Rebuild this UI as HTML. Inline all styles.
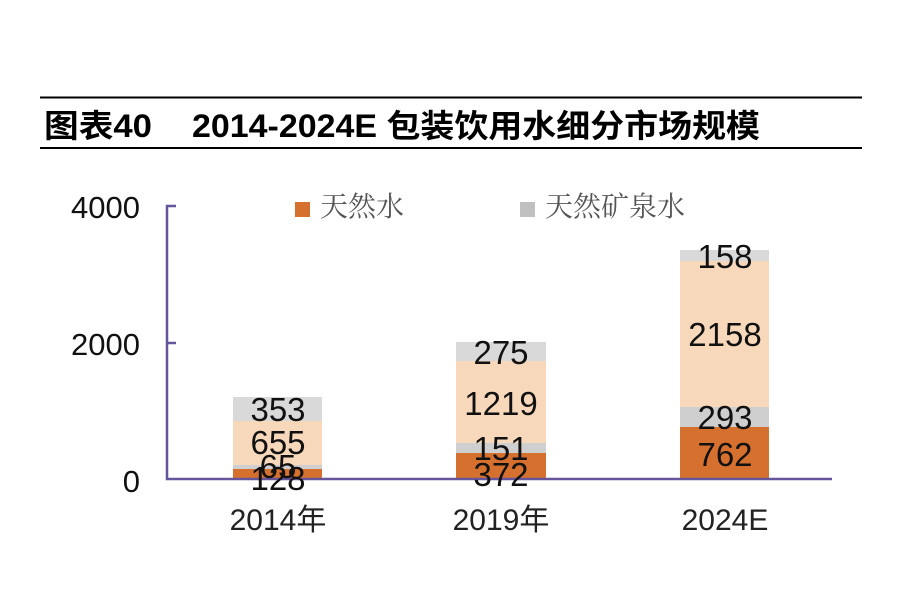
<!DOCTYPE html>
<html><head><meta charset="utf-8"><style>
html,body{margin:0;padding:0;background:#fff;}
</style></head><body>
<svg width="900" height="600" xmlns="http://www.w3.org/2000/svg" style="display:block">
<line x1="40" y1="97.5" x2="862" y2="97.5" stroke="#000" stroke-width="2"/>
<line x1="40" y1="148" x2="862" y2="148" stroke="#000" stroke-width="2"/>
<text x="44" y="137" font-family="Liberation Sans, Noto Sans CJK SC, sans-serif" font-size="32" font-weight="bold" fill="#000" textLength="108" lengthAdjust="spacingAndGlyphs">图表40</text>
<text x="192" y="137" font-family="Liberation Sans, Noto Sans CJK SC, sans-serif" font-size="32" font-weight="bold" fill="#000" textLength="568" lengthAdjust="spacingAndGlyphs">2014-2024E 包装饮用水细分市场规模</text>
<g font-family="Liberation Serif, Noto Serif CJK SC, serif" font-size="28" fill="#555">
<rect x="295" y="202" width="15" height="15" fill="#D6702F"/>
<text x="320" y="216">天然水</text>
<rect x="520" y="202" width="15" height="15" fill="#C0C0C0"/>
<text x="545" y="216">天然矿泉水</text>
</g>
<g font-family="Liberation Sans, sans-serif" font-size="31" fill="#111" text-anchor="end">
<text x="140" y="218">4000</text>
<text x="140" y="355">2000</text>
<text x="140" y="492">0</text>
</g>
<g>
<rect x="233" y="469" width="89" height="9" fill="#D6702F"/>
<rect x="233" y="465" width="89" height="4" fill="#CFCFCF"/>
<rect x="233" y="421" width="89" height="44" fill="#F8D8BA"/>
<rect x="233" y="397" width="89" height="24" fill="#D9D9D9"/>
<rect x="456" y="453" width="90" height="25" fill="#D6702F"/>
<rect x="456" y="443" width="90" height="10" fill="#CFCFCF"/>
<rect x="456" y="361" width="90" height="82" fill="#F8D8BA"/>
<rect x="456" y="342" width="90" height="19" fill="#D9D9D9"/>
<rect x="680" y="427" width="89" height="51" fill="#D6702F"/>
<rect x="680" y="407" width="89" height="20" fill="#CFCFCF"/>
<rect x="680" y="261" width="89" height="146" fill="#F8D8BA"/>
<rect x="680" y="250" width="89" height="11" fill="#D9D9D9"/>
</g>
<g fill="none" stroke="#65559A" stroke-width="2.5">
<path d="M176 206 H167 V479 H832"/>
<path d="M167 343 H176"/>
</g>
<g font-family="Liberation Sans, sans-serif" font-size="33" fill="#111" text-anchor="middle">
<text x="278" y="421">353</text>
<text x="278" y="454">655</text>
<text x="278" y="478">65</text>
<text x="278" y="490">128</text>
<text x="501" y="364">275</text>
<text x="501" y="415">1219</text>
<text x="501" y="460">151</text>
<text x="501" y="486">372</text>
<text x="725" y="268">158</text>
<text x="725" y="346">2158</text>
<text x="725" y="429">293</text>
<text x="725" y="466">762</text>
</g>
<g font-family="Liberation Sans, Noto Sans CJK SC, sans-serif" font-size="30" fill="#222" text-anchor="middle">
<text x="278" y="530">2014年</text>
<text x="501" y="530">2019年</text>
<text x="725" y="530">2024E</text>
</g>
</svg>
</body></html>
